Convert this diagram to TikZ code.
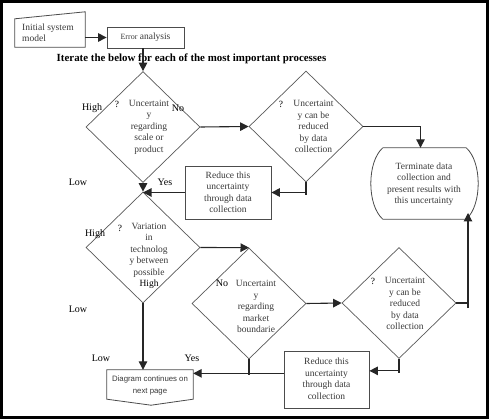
\documentclass[tikz,border=0pt]{standalone}
\usepackage{fontspec}
\setmainfont{Liberation Serif}
\newfontfamily\sansf{Liberation Sans}
\usetikzlibrary{shapes.geometric,arrows.meta,calc}
\begin{document}
\begin{tikzpicture}[x=1pt,y=-1pt,
 dia/.style={diamond,draw=black!65,line width=0.7pt,inner sep=0pt,minimum width=114pt,minimum height=111pt},
 box/.style={draw=black!70,line width=0.8pt,inner sep=0pt},
 txt/.style={align=center,text=black!78,font=\fontsize{9.5}{11.5}\selectfont,inner sep=0pt},
 lbl/.style={text=black,font=\fontsize{10}{12}\selectfont,inner sep=0pt},
 conn/.style={draw=black!85,line width=1.1pt},
 arr/.style={conn,-{Triangle[length=8.5pt,width=8.5pt]}}]
\useasboundingbox (0,0) rectangle (489,419);
\draw[line width=3pt] (1.5,1.5) rectangle (487.5,417.5);

% initial system model
\node[minimum width=70pt,minimum height=35pt,inner sep=0pt] (init) at (50,29.5) {};
\draw[box] (init.south west) -- (init.south east) -- (init.north east) -- ($(init.north west)+(0,7)$) -- cycle;
\node[txt,align=left,anchor=west] (initt) at (22,33) {Initial system\\model};

\node[box,minimum width=77pt,minimum height=21pt] (err) at (145.5,37.5) {};
\node[txt] (errt) at (err.center) {{\fontsize{8}{10}\selectfont Error} analysis};

\node[lbl,font=\bfseries\fontsize{10.9}{12}\selectfont] (title) at (191.5,59) {Iterate the below for each of the most important processes};

% diamonds
\node[dia] (d1) at (143,127) {};
\node[dia] (d2) at (306,126.5) {};
\node[dia] (d3) at (143,247.5) {};
\node[dia] (d4) at (249,303.5) {};
\node[dia] (d5) at (399,303) {};

% boxes
\node[box,minimum width=86pt,minimum height=53pt] (r1) at (228,192.5) {};
\node[box,minimum width=85pt,minimum height=57pt] (r2) at (326.5,379.5) {};
\node[minimum width=83pt,minimum height=71pt,inner sep=0pt] (term) at (424.5,183.5) {};
\draw[box] (term.north west) -- (term.north east) .. controls +(16,14) and +(16,-14) .. (term.south east) -- (term.south west) .. controls +(-16,-14) and +(-16,14) .. (term.north west);
\node[minimum width=86pt,minimum height=29pt,inner sep=0pt] (cont) at (150,384.5) {};
\draw[box] (cont.north west) -- (cont.north east) -- (cont.south east) -- ($(cont.south)+(1,6)$) -- (cont.south west) -- cycle;

% texts
\node[txt] (d1t) at (149,127) {Uncertaint\\y\\regarding\\scale or\\product};
\node[txt] (d2t) at (313.5,126.5) {Uncertaint\\y can be\\reduced\\by data\\collection};
\node[txt] (r1t) at (228,192.5) {Reduce this\\uncertainty\\through data\\collection};
\node[txt] (termt) at (424,184) {Terminate data\\collection and\\present results with\\this uncertainty};
\node[txt] (d3t) at (149,256) {Variation\\in\\technolog\\y between\\possible\\\textcolor{black}{High}};
\node[txt] (d4t) at (256,306.5) {Uncertaint\\y\\regarding\\market\\boundarie};
\node[txt] (d5t) at (405,303.5) {Uncertaint\\y can be\\reduced\\by data\\collection};
\node[txt] (r2t) at (326.5,378.5) {Reduce this\\uncertainty\\through data\\collection};
\node[txt,font=\sansf\fontsize{7.8}{12}\selectfont] (contt) at (150,385) {Diagram continues on\\next page};

\node[txt,text=black] (q1) at (117,104) {?};
\node[txt,text=black] (q2) at (281,104) {?};
\node[txt,text=black] (q3) at (120,228) {?};
\node[txt,text=black] (q5) at (373,281) {?};

% labels
\node[lbl] (h1) at (92,108) {High};
\node[lbl] (n1) at (178,108) {No};
\node[lbl] (l1) at (78,182) {Low};
\node[lbl] (y1) at (165,182) {Yes};
\node[lbl] (h2) at (95,234) {High};
\node[lbl] (l2) at (78,309) {Low};
\node[lbl] (n2) at (222,283) {No};
\node[lbl] (l3) at (101,358) {Low};
\node[lbl] (y2) at (192,358) {Yes};

% connectors
\draw[arr] (init.east |- err.west) -- (err.west);
\draw[arr] (err.south -| d1.north) -- (d1.north);
\draw[arr] (d1.east) -- (d2.west);
\draw[arr] (d2.east) -| ($(term.north)+(-4,0)$);
\draw[conn] (d2.south) -- ++(0,13);
\draw[arr] (d2.south |- r1.east) -- (r1.east);
\draw[arr] (d1.south) -- (d3.north);
\draw[arr] (r1.west) -- (r1.west -| d3.north);
\draw[arr] (d3.east) -- (d4.north);
\draw[arr] (d4.east) -- (d5.west);
\coordinate (tin) at (468,213);
\draw[conn] (d5.east) -- (d5.east -| tin);
\draw[arr] ($(d5.east -| tin)+(0,5)$) -- (tin);
\coordinate (j5) at ($(d5.south)+(0,12)$);
\draw[conn] (d5.south) -- ++(0,14);
\draw[arr] (j5) -- (j5 -| r2.east);
\coordinate (j4) at ($(d4.south)+(0,14)$);
\draw[conn] (d4.south) -- ++(0,16);
\draw[arr] (r2.west |- j4) -- (j4 -| cont.east);
\draw[arr] (d3.south) -- (d3.south |- cont.north);
\end{tikzpicture}
\end{document}
